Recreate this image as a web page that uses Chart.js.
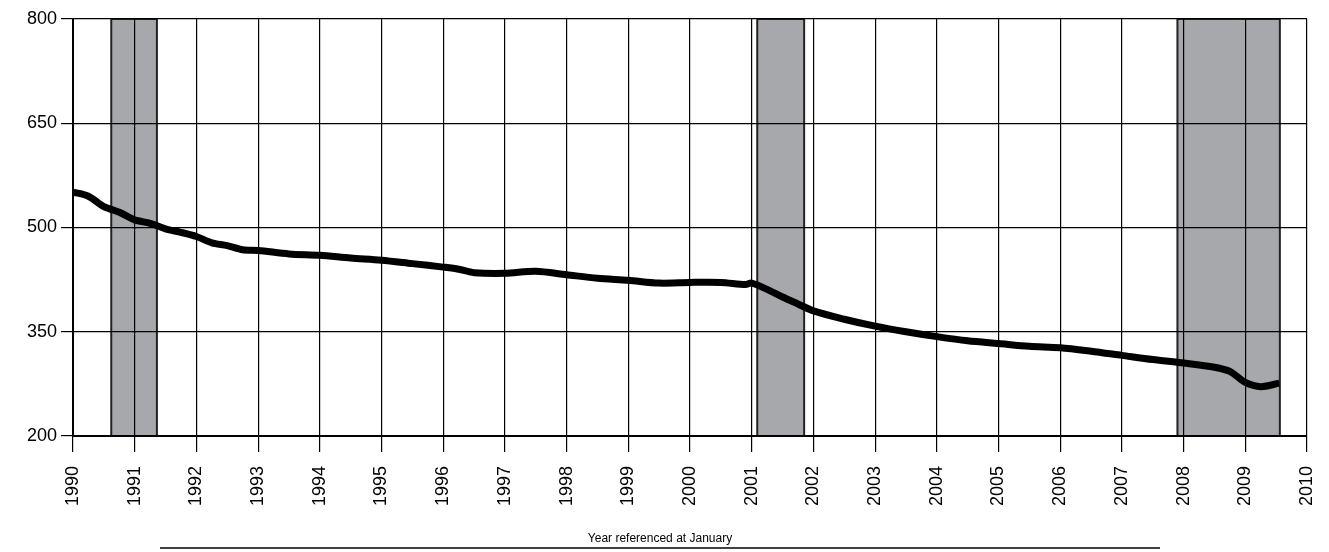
<!DOCTYPE html>
<html>
<head>
<meta charset="utf-8">
<script src="https://cdn.jsdelivr.net/npm/chart.js@4"></script>
<style>
  body { margin: 0; background: #fff; }
  #wrap { width: 1329px; height: 552px; }
</style>
</head>
<body>
<div id="wrap"><canvas id="chart"></canvas></div>
<script>
// Data (year, value)
const years = [1990, 1990.25, 1990.5, 1990.75, 1991, 1991.25, 1991.5, 1991.75, 1992, 1992.25, 1992.5, 1992.75,
  1993, 1993.5, 1994, 1994.5, 1995, 1995.5, 1996, 1996.25, 1996.5, 1997, 1997.5, 1998, 1998.5,
  1999, 1999.5, 2000, 2000.5, 2000.9, 2001, 2001.25, 2001.5, 2001.75, 2002, 2002.5, 2003, 2003.5,
  2004, 2004.5, 2005, 2005.5, 2006, 2006.5, 2007, 2007.5, 2008, 2008.5, 2008.75, 2009, 2009.25, 2009.55];
const values = [551, 545, 530, 522, 511, 506, 498, 493, 487, 478, 474, 468,
  467, 462, 460, 456, 453, 448, 443, 440, 435, 434, 437, 432, 427,
  424, 420, 421, 421, 418, 420, 411, 400, 390, 380, 368, 358, 350,
  343, 337, 333, 329, 327, 322, 316, 310, 305, 299, 293, 277, 271, 276];
const recessionStart = [1990.62, 2001.09, 2007.9];
const recessionEnd = [1991.36, 2001.85, 2009.56];
const yTicks = [200, 350, 500, 650, 800];

const bandsPlugin = {
  id: "bands",
  beforeDraw(chart) {
    const { ctx, chartArea, scales } = chart;
    ctx.save();
    recessionStart.forEach((s, i) => {
      const x1 = scales.x.getPixelForValue(s);
      const x2 = scales.x.getPixelForValue(recessionEnd[i]);
      ctx.fillStyle = "#a7a8ab";
      ctx.fillRect(x1, chartArea.top, x2 - x1, chartArea.bottom - chartArea.top);
      ctx.strokeStyle = "#222";
      ctx.lineWidth = 2;
      ctx.strokeRect(x1, chartArea.top, x2 - x1, chartArea.bottom - chartArea.top);
    });
    ctx.restore();
  },
  afterDraw(chart) {
    const { ctx } = chart;
    ctx.save();
    ctx.fillStyle = "#000";
    ctx.font = "12px 'Liberation Sans', Arial, sans-serif";
    ctx.textAlign = "center";
    ctx.textBaseline = "middle";
    ctx.fillText("Year referenced at January", 660, 539);
    ctx.strokeStyle = "#000";
    ctx.lineWidth = 1.5;
    ctx.beginPath();
    ctx.moveTo(160, 548);
    ctx.lineTo(1160, 548);
    ctx.stroke();
    ctx.restore();
  }
};

new Chart(document.getElementById("chart"), {
  type: "line",
  data: {
    datasets: [{
      data: years.map((y, i) => ({ x: y, y: values[i] })),
      borderColor: "#000",
      borderWidth: 7,
      pointRadius: 0,
      tension: 0.3,
      fill: false
    }]
  },
  options: {
    responsive: true,
    maintainAspectRatio: false,
    animation: false,
    layout: { padding: { top: 19, right: 0, left: 0, bottom: 0 } },
    plugins: { legend: { display: false }, tooltip: { enabled: false } },
    scales: {
      x: {
        type: "linear",
        min: 1990, max: 2010,
        afterFit(s) { s.height = 116; s.paddingRight = 22; },
        ticks: {
          stepSize: 1, autoSkip: false, maxRotation: 90, minRotation: 90, padding: 14,
          color: "#000", font: { size: 18, family: "'Liberation Sans', Arial, sans-serif" },
          callback: v => String(v)
        },
        grid: { color: "#000", lineWidth: 1.2, tickLength: 16 },
        border: { color: "#000", width: 2 }
      },
      y: {
        min: 200, max: 800,
        afterFit(s) { s.width = 73; },
        afterBuildTicks(s) { s.ticks = yTicks.map(v => ({ value: v })); },
        ticks: { color: "#000", padding: 4, font: { size: 18, family: "'Liberation Sans', Arial, sans-serif" } },
        grid: { color: "#000", lineWidth: 1.2, tickLength: 12 },
        border: { color: "#000", width: 2 }
      }
    }
  },
  plugins: [bandsPlugin]
});
</script>
</body>
</html>
